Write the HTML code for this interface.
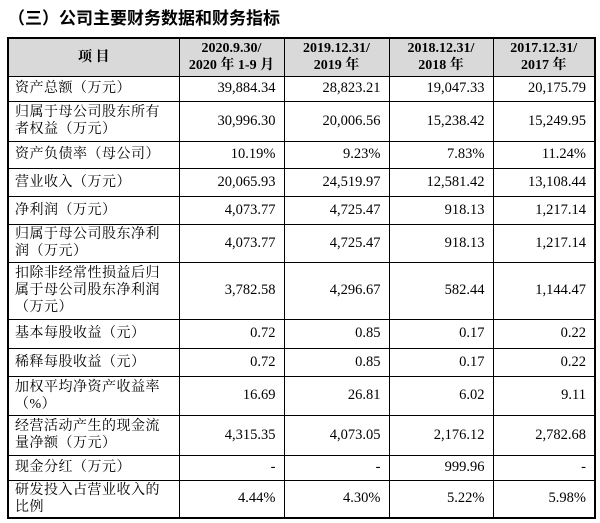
<!DOCTYPE html>
<html><head><meta charset="utf-8"><style>
body{margin:0;width:600px;height:523px;background:#fff;position:relative;overflow:hidden;font-family:"Liberation Serif","Noto Serif CJK SC",serif;color:#000}
.t{position:absolute;left:8px;top:4px;font:bold 17px "Liberation Sans","Noto Sans CJK SC",sans-serif}
table{position:absolute;left:7px;top:37px;border-collapse:collapse;border:2px solid #000;table-layout:fixed}
td{border:1px solid #000;font-size:14px;line-height:17px;padding:0 6px;}
td.n{text-align:right;padding-right:8px;font-size:14.5px}
td.l{padding-left:6px;letter-spacing:0.5px}
tr.h td{background:#d9d9d9;font-weight:bold;text-align:center;font-size:14px}
</style></head><body>
<div class="t">（三）公司主要财务数据和财务指标</div>
<table>
<colgroup><col style="width:171px"><col style="width:105px"><col style="width:105px"><col style="width:104px"><col style="width:102px"></colgroup>
<tr class="h" style="height:38px"><td>项 目</td><td>2020.9.30/<br>2020 年 1-9 月</td><td>2019.12.31/<br>2019 年</td><td>2018.12.31/<br>2018 年</td><td>2017.12.31/<br>2017 年</td></tr>
<tr style="height:25px"><td class="l">资产总额（万元）</td><td class="n">39,884.34</td><td class="n">28,823.21</td><td class="n">19,047.33</td><td class="n">20,175.79</td></tr>
<tr style="height:40px"><td class="l">归属于母公司股东所有者权益（万元）</td><td class="n">30,996.30</td><td class="n">20,006.56</td><td class="n">15,238.42</td><td class="n">15,249.95</td></tr>
<tr style="height:27px"><td class="l">资产负债率（母公司）</td><td class="n">10.19%</td><td class="n">9.23%</td><td class="n">7.83%</td><td class="n">11.24%</td></tr>
<tr style="height:28px"><td class="l">营业收入（万元）</td><td class="n">20,065.93</td><td class="n">24,519.97</td><td class="n">12,581.42</td><td class="n">13,108.44</td></tr>
<tr style="height:28px"><td class="l">净利润（万元）</td><td class="n">4,073.77</td><td class="n">4,725.47</td><td class="n">918.13</td><td class="n">1,217.14</td></tr>
<tr style="height:38px"><td class="l">归属于母公司股东净利润（万元）</td><td class="n">4,073.77</td><td class="n">4,725.47</td><td class="n">918.13</td><td class="n">1,217.14</td></tr>
<tr style="height:57px"><td class="l">扣除非经常性损益后归属于母公司股东净利润（万元）</td><td class="n">3,782.58</td><td class="n">4,296.67</td><td class="n">582.44</td><td class="n">1,144.47</td></tr>
<tr style="height:29px"><td class="l">基本每股收益（元）</td><td class="n">0.72</td><td class="n">0.85</td><td class="n">0.17</td><td class="n">0.22</td></tr>
<tr style="height:28px"><td class="l">稀释每股收益（元）</td><td class="n">0.72</td><td class="n">0.85</td><td class="n">0.17</td><td class="n">0.22</td></tr>
<tr style="height:39px"><td class="l">加权平均净资产收益率（%）</td><td class="n">16.69</td><td class="n">26.81</td><td class="n">6.02</td><td class="n">9.11</td></tr>
<tr style="height:40px"><td class="l">经营活动产生的现金流量净额（万元）</td><td class="n">4,315.35</td><td class="n">4,073.05</td><td class="n">2,176.12</td><td class="n">2,782.68</td></tr>
<tr style="height:25px"><td class="l">现金分红（万元）</td><td class="n">-</td><td class="n">-</td><td class="n">999.96</td><td class="n">-</td></tr>
<tr style="height:38px"><td class="l">研发投入占营业收入的比例</td><td class="n">4.44%</td><td class="n">4.30%</td><td class="n">5.22%</td><td class="n">5.98%</td></tr>
</table>
</body></html>
